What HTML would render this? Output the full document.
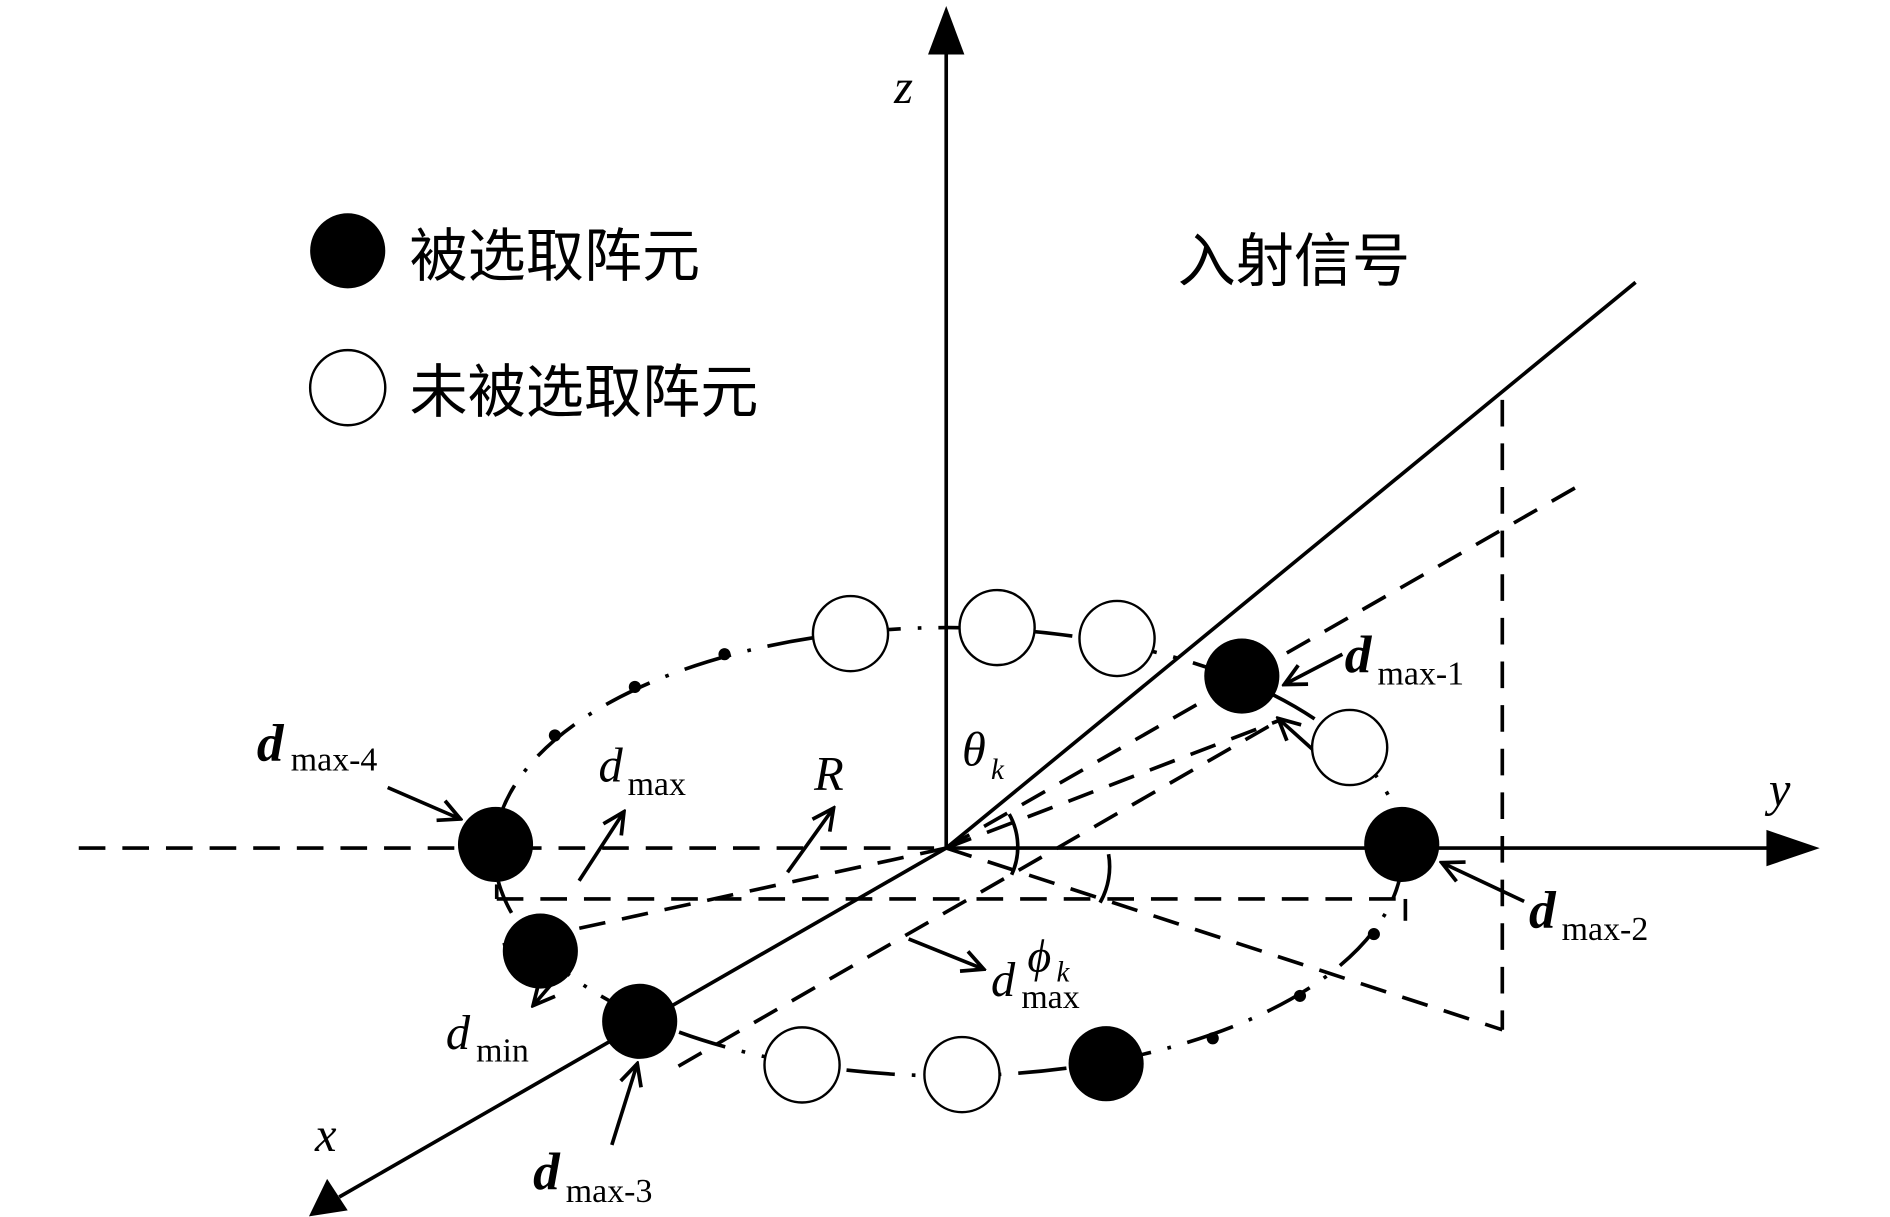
<!DOCTYPE html>
<html><head><meta charset="utf-8"><style>body{margin:0;background:#fff}svg{display:block}
text{font-family:"Liberation Serif","Noto Serif CJK SC",serif}
.cjk{font-family:"Liberation Sans","Noto Sans CJK SC",sans-serif}</style></head><body>
<svg width="1890" height="1217" viewBox="0 0 1560 1004.5" xmlns="http://www.w3.org/2000/svg">
<defs><marker id="v" viewBox="0 0 20 20" refX="18" refY="10" markerWidth="22" markerHeight="22" orient="auto" markerUnits="userSpaceOnUse"><path d="M2,2 L18,10 L2,18" fill="none" stroke="#000" stroke-width="2.8"/></marker></defs>
<g stroke="#000" stroke-width="3" fill="none">
<line x1="781" y1="700" x2="781" y2="40"/>
<line x1="781" y1="700" x2="1460" y2="700"/>
<line x1="781" y1="700" x2="280" y2="988"/>
<line x1="781" y1="700" x2="1350" y2="233"/>
</g>
<polygon points="781,5 766,45 796,45"/>
<polygon points="1502,700 1458,685 1458,715"/>
<polygon points="255,1004 270,973 287,999"/>
<g stroke="#000" stroke-width="3" fill="none" stroke-dasharray="22,14">
<line x1="65" y1="700" x2="781" y2="700"/>
<line x1="781" y1="700" x2="1310" y2="397"/>
<line x1="1240" y1="330" x2="1240" y2="850"/>
<line x1="781" y1="700" x2="1240" y2="850"/>
<line x1="410" y1="742" x2="1160" y2="742"/>
<line x1="781" y1="700" x2="415" y2="780"/>
<line x1="560" y1="880" x2="1055" y2="595"/>
<line x1="781" y1="700" x2="1055" y2="595"/>
</g>
<g stroke="#000" stroke-width="3" fill="none">
<ellipse cx="783" cy="703" rx="375" ry="185" stroke-dasharray="40,14,3,14"/>
<path d="M833,672 A55,55 0 0 1 835,722"/>
<path d="M915,705 A60,60 0 0 1 908,745"/>
<line x1="410" y1="742" x2="410" y2="730"/>
<line x1="1160" y1="742" x2="1160" y2="760"/>
</g>
<g stroke="#000" stroke-width="3" fill="none" marker-end="url(#v)">
<line x1="478" y1="727" x2="515" y2="670"/>
<line x1="650" y1="720" x2="688" y2="667"/>
<line x1="320" y1="650" x2="380" y2="676"/>
<line x1="1108" y1="540" x2="1060" y2="565"/>
<line x1="1258" y1="744" x2="1190" y2="712"/>
<line x1="505" y1="945" x2="526" y2="878"/>
<line x1="750" y1="775" x2="812" y2="800"/>
<line x1="470" y1="795" x2="440" y2="830"/>
<line x1="1085" y1="620" x2="1055" y2="593"/>
</g>
<g fill="#000">
<circle cx="409" cy="697" r="31"/><circle cx="446" cy="785" r="31"/><circle cx="528" cy="843" r="31"/>
<circle cx="1025" cy="558" r="31"/><circle cx="1157" cy="697" r="31"/><circle cx="913" cy="878" r="31"/>
<circle cx="287" cy="207" r="31"/>
<circle cx="598" cy="540" r="5"/><circle cx="524" cy="567" r="5"/><circle cx="458" cy="607" r="5"/>
<circle cx="1134" cy="771" r="5"/><circle cx="1073" cy="822" r="5"/><circle cx="1001" cy="857" r="5"/>
</g>
<g fill="#fff" stroke="#000" stroke-width="2">
<circle cx="702" cy="523" r="31"/><circle cx="823" cy="518" r="31"/><circle cx="922" cy="527" r="31"/>
<circle cx="1114" cy="617" r="31"/><circle cx="662" cy="879" r="31"/><circle cx="794" cy="887" r="31"/>
<circle cx="287" cy="320" r="31"/>
</g>
<text class="cjk" x="338" y="228" font-size="48">被选取阵元</text>
<text class="cjk" x="338" y="340" font-size="48">未被选取阵元</text>
<text class="cjk" x="972" y="232" font-size="48">入射信号</text>
<g font-style="italic" font-size="40">
<text x="738" y="85">z</text><text x="1460" y="665">y</text><text x="260" y="950">x</text>
<text x="672" y="652">R</text><text x="794" y="632">θ</text><text x="494" y="645">d</text>
<text x="368" y="866">d</text><text x="818" y="822">d</text><text x="848" y="802" font-size="38">ϕ</text>
<text x="818" y="643" font-size="24">k</text><text x="872" y="810" font-size="24">k</text>
</g>
<g font-size="28">
<text x="518" y="656">max</text><text x="393" y="876">min</text><text x="843" y="832">max</text>
</g>
<g font-weight="bold" font-style="italic" font-size="44">
<text x="212" y="628">d</text><text x="1110" y="555">d</text><text x="1262" y="766">d</text><text x="440" y="982">d</text>
</g>
<g font-size="28">
<text x="240" y="636">max‑4</text><text x="1137" y="565">max‑1</text><text x="1289" y="776">max‑2</text><text x="467" y="992">max‑3</text>
</g>
</svg></body></html>
